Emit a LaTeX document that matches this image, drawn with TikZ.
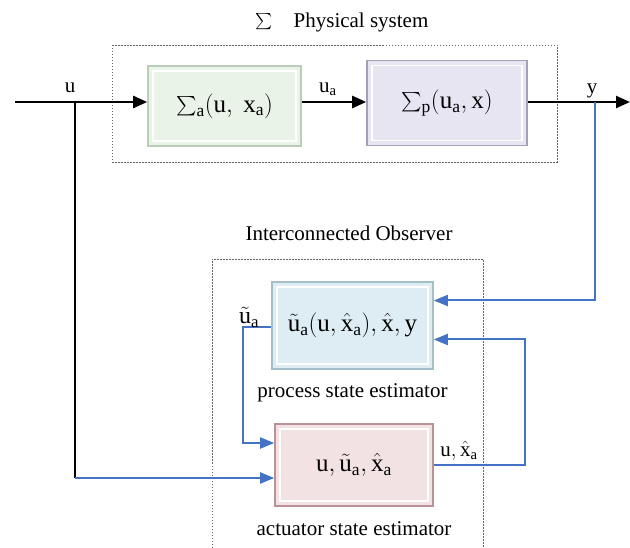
\documentclass[tikz,border=0pt]{standalone}
\usepackage{exscale}
\usepackage{graphicx}
\usepackage{fontspec}
\setmainfont{Liberation Serif}
\usetikzlibrary{positioning,arrows.meta}

\definecolor{obsblue}{RGB}{68,114,196}
\definecolor{actfill}{RGB}{233,243,231}
\definecolor{actline}{RGB}{185,205,185}
\definecolor{prcfill}{RGB}{232,229,242}
\definecolor{prcline}{RGB}{165,160,185}
\definecolor{pesfill}{RGB}{222,237,243}
\definecolor{pesline}{RGB}{165,190,200}
\definecolor{aesfill}{RGB}{243,226,227}
\definecolor{aesline}{RGB}{185,145,150}

\tikzset{
    block/.style 2 args={rectangle, draw=#2, line width=1.6pt, fill=#1, inner sep=0pt,
        font={\fontsize{25}{28}\selectfont},
        path picture={\draw[white, line width=1.2pt]
            ([shift={(5pt,-5pt)}]path picture bounding box.north west) rectangle
            ([shift={(-5pt,5pt)}]path picture bounding box.south east);}},
    sig/.style={line width=2.4pt, -{Triangle[length=14pt,width=12pt]}},
    fb/.style={draw=obsblue, line width=2pt, -{Triangle[length=14pt,width=11pt]}},
    frame/.style={draw=gray!80!black, dash pattern=on 1.5pt off 1.5pt, line width=0.6pt},
    title/.style={font={\fontsize{21}{24}\selectfont}},
    lbl/.style={font={\fontsize{21}{24}\selectfont}, inner sep=1pt}
}
\newcommand{\ur}{\mathrm{u}}
\newcommand{\xr}{\mathrm{x}}
\newcommand{\sr}{\mathrm{a}}
\newcommand{\smallsum}{\mathop{\vcenter{\hbox{\scalebox{0.78}{$\sum$}}}}\nolimits}

\begin{document}
\begin{tikzpicture}[x=1pt, y=-1pt]
    \useasboundingbox (0,0) rectangle (630,548);

    % physical system
    \draw[frame] (112,45) rectangle (557,162);
    \node[title] (t_phys) at (342,22) {$\smallsum$\quad Physical system};
    \node[block={actfill}{actline}, minimum width=153pt, minimum height=80pt] (sig_a) at (224.5,106) {$\smallsum_{\sr}(\ur,\ \xr_{\sr})$\hspace{10pt}};
    \node[block={prcfill}{prcline}, minimum width=160pt, minimum height=85pt] (sig_p) at (447,103) {$\smallsum_{\mathrm{p}}(\ur_{\sr},\xr)$};

    % observer
    \draw[frame] (212,548) -- (212,259) -- (483,259) -- (483,548);
    \node[title] (t_obs) at (349,233) {Interconnected Observer};
    \node[block={pesfill}{pesline}, minimum width=161pt, minimum height=87pt] (pse) at (352.5,325.5) {$\tilde{\ur}_{\sr}(\ur,\hat{\xr}_{\sr}),\hat{\xr},\mathrm{y}$};
    \node[title, below=10pt of pse] (t_pse) {process state estimator};
    \node[block={aesfill}{aesline}, minimum width=158pt, minimum height=82pt] (ase) at (354,465) {$\ur,\tilde{\ur}_{\sr},\hat{\xr}_{\sr}$};
    \node[title, below=11pt of ase] (t_ase) {actuator state estimator};

    \coordinate (in) at (15,102);
    \coordinate (out) at (630,102);
    \coordinate (br) at (75,102);
    \coordinate (br_low) at (75,478);
    \coordinate (y_tap) at (595,102);
    \coordinate (ua_turn) at (243,327);
    \coordinate (xa_turn) at (525,465);

    % forward path
    \draw[sig] (in) -- (sig_a.west |- in);
    \draw[sig] (sig_a.east |- in) -- (sig_p.west |- in);
    \draw[sig] (sig_p.east |- in) -- (out);
    \draw[line width=2.4pt] (br) -- (br_low);

    % observer links
    \draw[fb] (br_low) -- (ase.west |- br_low);
    \draw[fb] (y_tap) |- ([yshift=25pt]pse.east);
    \draw[fb] (pse.west |- ua_turn) -- (ua_turn) |- ([yshift=22pt]ase.west);
    \draw[fb] (ase.east) -- (xa_turn) |- ([yshift=-14pt]pse.east);

    \node[lbl] (l_u) at (70,88) {$\ur$};
    \node[lbl] (l_ua) at (328,89) {$\ur_{\sr}$};
    \node[lbl] (l_y) at (592,91) {$\mathrm{y}$};
    \node[lbl, font={\fontsize{24}{26}\selectfont}] (l_uat) at (249,317) {$\tilde{\ur}_{\sr}$};
    \node[lbl] (l_xa) at (459,451) {$\ur,\hat{\xr}_{\sr}$};
\end{tikzpicture}
\end{document}
